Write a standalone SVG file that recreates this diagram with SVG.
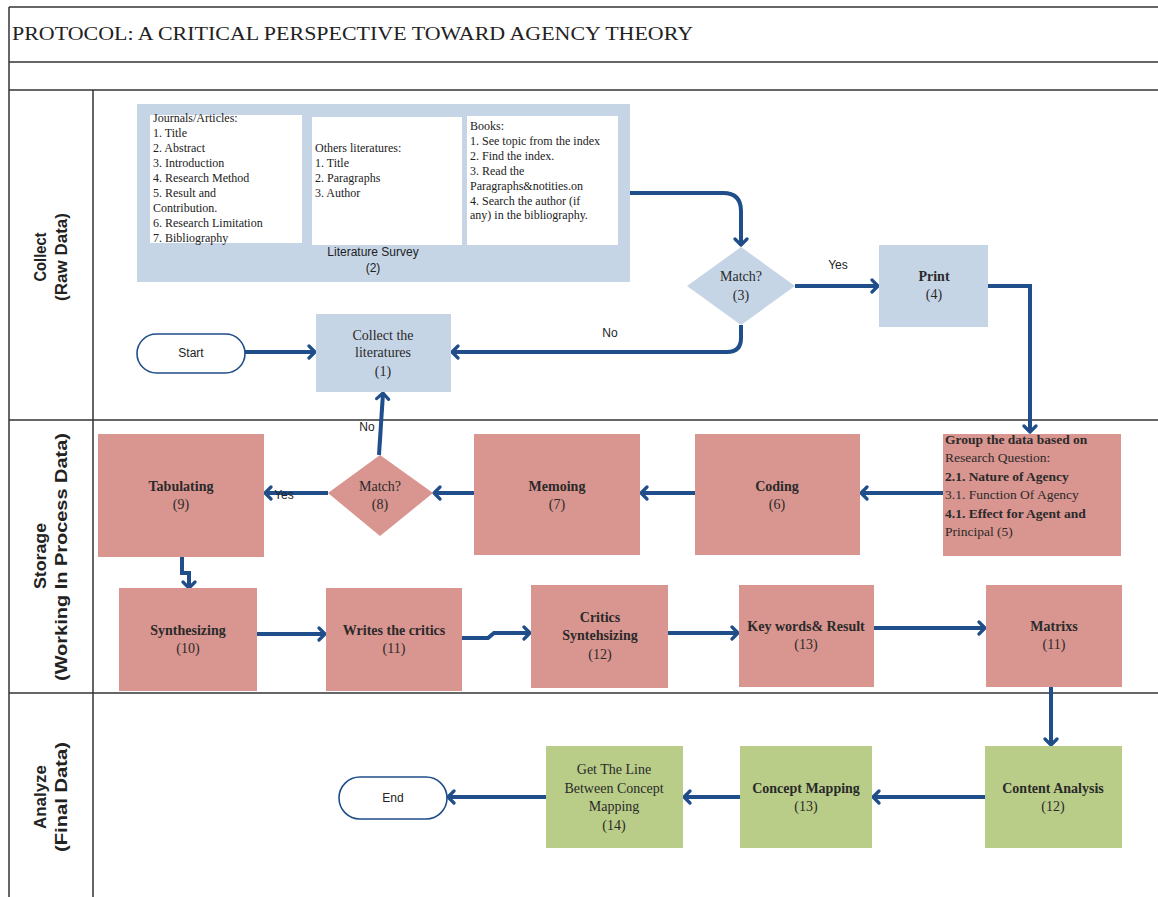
<svg xmlns="http://www.w3.org/2000/svg" width="1158" height="897" viewBox="0 0 1158 897">
<defs>
<marker id="chev" markerUnits="userSpaceOnUse" viewBox="0 0 10 16" markerWidth="10" markerHeight="16" refX="8" refY="8" orient="auto">
<path d="M2,2 L8,8 L2,14" fill="none" stroke="#1f4e8a" stroke-width="3.2" stroke-linecap="round" stroke-linejoin="round"/>
</marker>
<style>
.grid{stroke:#333;stroke-width:1.5;fill:none}
.blue{fill:#c6d5e6}
.red{fill:#d9958f}
.green{fill:#b9cd88}
.white{fill:#fff}
.pill{fill:#fff;stroke:#1f4e8a;stroke-width:1.6}
.conn{fill:none;stroke:#1f4e8a;stroke-width:4;marker-end:url(#chev)}
.connn{fill:none;stroke:#1f4e8a;stroke-width:4}
.t{font-family:"Liberation Serif","Times New Roman",serif;font-size:14px;fill:#2a2a2a;text-anchor:middle}
.tb{font-family:"Liberation Serif","Times New Roman",serif;font-size:14px;fill:#2a2a2a;text-anchor:middle;font-weight:bold}
.s{font-family:"Liberation Serif","Times New Roman",serif;font-size:12px;fill:#222}
.g{font-family:"Liberation Serif","Times New Roman",serif;font-size:13.5px;fill:#2a2a2a}
.sans{font-family:"Liberation Sans",Arial,sans-serif;font-size:12px;fill:#222;text-anchor:middle}
.lane{font-family:"Liberation Sans Narrow","Liberation Sans",Arial,sans-serif;font-size:17px;font-weight:bold;fill:#222;text-anchor:middle}
</style>
</defs>

<g id="frame">
<line class="grid" x1="9" y1="7" x2="1158" y2="7"/>
<line class="grid" x1="9" y1="7" x2="9" y2="897"/>
<line class="grid" x1="9" y1="62" x2="1158" y2="62"/>
<line class="grid" x1="9" y1="90" x2="1158" y2="90"/>
<line class="grid" x1="93" y1="90" x2="93" y2="897"/>
<line class="grid" x1="9" y1="420" x2="1158" y2="420"/>
<line class="grid" x1="9" y1="693" x2="1158" y2="693"/>
<text x="12" y="40" font-family="'Liberation Serif','Times New Roman',serif" font-size="19" fill="#222" textLength="681" lengthAdjust="spacingAndGlyphs">PROTOCOL: A CRITICAL PERSPECTIVE TOWARD AGENCY THEORY</text>
</g>

<g id="lanes">
<text class="lane" transform="translate(46,257) rotate(-90)" textLength="49" lengthAdjust="spacingAndGlyphs">Collect</text>
<text class="lane" transform="translate(67,257) rotate(-90)" textLength="88" lengthAdjust="spacingAndGlyphs">(Raw Data)</text>
<text class="lane" transform="translate(46,556) rotate(-90)" textLength="66" lengthAdjust="spacingAndGlyphs">Storage</text>
<text class="lane" transform="translate(67,557) rotate(-90)" textLength="248" lengthAdjust="spacingAndGlyphs">(Working In Process Data)</text>
<text class="lane" transform="translate(46,797) rotate(-90)" textLength="64" lengthAdjust="spacingAndGlyphs">Analyze</text>
<text class="lane" transform="translate(67,797) rotate(-90)" textLength="110" lengthAdjust="spacingAndGlyphs">(Final Data)</text>
</g>

<g id="connectors">
<path class="conn" d="M630,193 H723 Q741,193 741,211 V245"/>
<path class="conn" d="M795,286 H878"/>
<path class="conn" d="M988,286 H1030 V432"/>
<path class="conn" d="M741,325 V338 Q741,352 727,352 H452"/>
<path class="conn" d="M245,352 H315"/>
<path class="conn" d="M943,493 H861"/>
<path class="conn" d="M695,493 H641"/>
<path class="conn" d="M474,493 H434"/>
<path class="conn" d="M328,493 H265"/>
<path class="conn" d="M379,455 L383,393"/>
<path class="conn" d="M182,557 V573 H189 V588"/>
<path class="conn" d="M257,634 H325"/>
<path class="conn" d="M462,638 H488 L494,633 H530"/>
<path class="conn" d="M668,633 H738"/>
<path class="conn" d="M874,628 H985"/>
<path class="conn" d="M1051,687 V745"/>
<path class="conn" d="M985,797 H873"/>
<path class="conn" d="M740,797 H684"/>
<path class="conn" d="M546,797 H448"/>
<polygon points="462,172 469,168 468,176" fill="#111"/>
<text class="sans" x="838" y="269">Yes</text>
<text class="sans" x="610" y="337">No</text>
<text class="sans" x="367" y="431">No</text>
<text class="sans" x="284" y="499" font-size="11">Yes</text>
</g>

<g id="n2">
<rect class="blue" x="137" y="104" width="493" height="178"/>
<rect class="white" x="150" y="115" width="152" height="128"/>
<rect class="white" x="312" y="117" width="150" height="128"/>
<rect class="white" x="467" y="116" width="151" height="129"/>
<text class="s" x="153" y="122">Journals/Articles:</text>
<text class="s" x="153" y="137">1. Title</text>
<text class="s" x="153" y="152">2. Abstract</text>
<text class="s" x="153" y="167">3. Introduction</text>
<text class="s" x="153" y="182">4. Research Method</text>
<text class="s" x="153" y="197">5. Result and</text>
<text class="s" x="153" y="212">Contribution.</text>
<text class="s" x="153" y="227">6. Research Limitation</text>
<text class="s" x="153" y="242">7. Bibliography</text>
<text class="s" x="315" y="152">Others literatures:</text>
<text class="s" x="315" y="167">1. Title</text>
<text class="s" x="315" y="182">2. Paragraphs</text>
<text class="s" x="315" y="197">3. Author</text>
<text class="s" x="470" y="130">Books:</text>
<text class="s" x="470" y="145">1. See topic from the index</text>
<text class="s" x="470" y="160">2. Find the index.</text>
<text class="s" x="470" y="175">3. Read the</text>
<text class="s" x="470" y="190">Paragraphs&amp;notities.on</text>
<text class="s" x="470" y="205">4. Search the author (if</text>
<text class="s" x="470" y="219">any) in the bibliography.</text>
<text class="sans" x="373" y="256" font-size="11">Literature Survey</text>
<text class="sans" x="373" y="272" font-size="11">(2)</text>
</g>

<g id="n3">
<polygon class="blue" points="741,247 795,286 741,325 687,286"/>
<text class="t" x="741" y="281">Match?</text>
<text class="t" x="741" y="300">(3)</text>
</g>

<g id="n4">
<rect class="blue" x="879" y="245" width="109" height="82"/>
<text class="tb" x="934" y="281">Print</text>
<text class="t" x="934" y="299">(4)</text>
</g>

<g id="n1">
<rect class="blue" x="316" y="314" width="135" height="78"/>
<text class="t" x="383" y="340">Collect the</text>
<text class="t" x="383" y="357">literatures</text>
<text class="t" x="383" y="376">(1)</text>
</g>

<g id="start">
<rect class="pill" x="137" y="334" width="108" height="39" rx="19.5"/>
<text class="sans" x="191" y="357">Start</text>
</g>

<g id="n5">
<rect class="red" x="943" y="434" width="178" height="122"/>
<text class="g" x="945" y="444" font-weight="bold">Group the data based on</text>
<text class="g" x="945" y="462">Research Question:</text>
<text class="g" x="945" y="481" font-weight="bold">2.1. Nature of Agency</text>
<text class="g" x="945" y="499">3.1. Function Of Agency</text>
<text class="g" x="945" y="518" font-weight="bold">4.1. Effect for Agent and</text>
<text class="g" x="945" y="536">Principal (5)</text>
</g>

<g id="n6">
<rect class="red" x="695" y="434" width="165" height="121"/>
<text class="tb" x="777" y="491">Coding</text>
<text class="t" x="777" y="509">(6)</text>
</g>

<g id="n7">
<rect class="red" x="474" y="434" width="166" height="121"/>
<text class="tb" x="557" y="491">Memoing</text>
<text class="t" x="557" y="509">(7)</text>
</g>

<g id="n8">
<polygon class="red" points="380,455 433,493 380,536 328,493"/>
<text class="t" x="380" y="491">Match?</text>
<text class="t" x="380" y="509">(8)</text>
</g>

<g id="n9">
<rect class="red" x="98" y="434" width="166" height="123"/>
<text class="tb" x="181" y="491">Tabulating</text>
<text class="t" x="181" y="509">(9)</text>
</g>

<g id="n10">
<rect class="red" x="119" y="588" width="138" height="103"/>
<text class="tb" x="188" y="635">Synthesizing</text>
<text class="t" x="188" y="653">(10)</text>
</g>

<g id="n11">
<rect class="red" x="326" y="588" width="136" height="103"/>
<text class="tb" x="394" y="635">Writes the critics</text>
<text class="t" x="394" y="653">(11)</text>
</g>

<g id="n12">
<rect class="red" x="531" y="585" width="137" height="103"/>
<text class="tb" x="600" y="622">Critics</text>
<text class="tb" x="600" y="640">Syntehsizing</text>
<text class="t" x="600" y="659">(12)</text>
</g>

<g id="n13">
<rect class="red" x="739" y="585" width="135" height="102"/>
<text class="tb" x="806" y="631">Key words&amp; Result</text>
<text class="t" x="806" y="649">(13)</text>
</g>

<g id="n14">
<rect class="red" x="986" y="585" width="136" height="102"/>
<text class="tb" x="1054" y="631">Matrixs</text>
<text class="t" x="1054" y="649">(11)</text>
</g>

<g id="n15">
<rect class="green" x="985" y="746" width="137" height="102"/>
<text class="tb" x="1053" y="793">Content Analysis</text>
<text class="t" x="1053" y="811">(12)</text>
</g>

<g id="n16">
<rect class="green" x="740" y="746" width="132" height="102"/>
<text class="tb" x="806" y="793">Concept Mapping</text>
<text class="t" x="806" y="811">(13)</text>
</g>

<g id="n17">
<rect class="green" x="546" y="746" width="137" height="102"/>
<text class="t" x="614" y="774">Get The Line</text>
<text class="t" x="614" y="793">Between Concept</text>
<text class="t" x="614" y="811">Mapping</text>
<text class="t" x="614" y="830">(14)</text>
</g>

<g id="end">
<rect class="pill" x="339" y="777" width="108" height="42" rx="21"/>
<text class="sans" x="393" y="802">End</text>
</g>
</svg>
